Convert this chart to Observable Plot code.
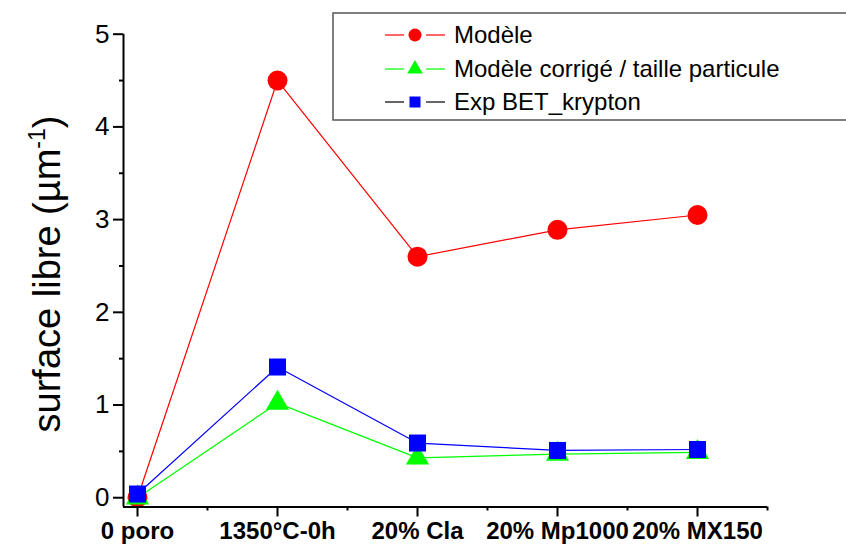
<!DOCTYPE html>
<html>
<head>
<meta charset="utf-8">
<script src="https://cdn.jsdelivr.net/npm/d3@7"></script>
<script src="https://cdn.jsdelivr.net/npm/@observablehq/plot@0.6"></script>
<style>
  html, body { margin: 0; padding: 0; background: #fff; }
  #chart { position: relative; width: 846px; height: 544px; }
</style>
</head>
<body>
<div id="chart"></div>
<script>
const categories = ["0 poro", "1350°C-0h", "20% Cla", "20% Mp1000", "20% MX150"];
const modele = [0, 4.5, 2.6, 2.89, 3.05];
const corrige = [0, 1.02, 0.43, 0.47, 0.49];
const betKrypton = [0.04, 1.41, 0.59, 0.51, 0.52];
const seriesNames = ["Modèle", "Modèle corrigé / taille particule", "Exp BET_krypton"];
const yTicks = [0, 1, 2, 3, 4, 5];
const yMinor = [0.5, 1.5, 2.5, 3.5, 4.5];
const xMinor = [0.5, 1.5, 2.5, 3.5, 4.5];

const colors = ["#ff0000", "#00ff00", "#0000ff"];
const symbols = ["circle", "triangle", "square"];
const radii = [10, 8.6, 9.6];
const legendLine = ["#ff0000", "#00ff00", "#000000"];

const seriesValues = [modele, corrige, betKrypton];
const rows = seriesValues.map((vals, s) => vals.map((v, i) => ({series: seriesNames[s], i, value: v})));

const font = "'Liberation Sans', Arial, Helvetica, sans-serif";

const marks = [];
rows.forEach((r, s) => {
  marks.push(Plot.line(r, {x: "i", y: "value", stroke: colors[s], strokeWidth: 1.2}));
});
rows.forEach((r, s) => {
  marks.push(Plot.dot(r, {x: "i", y: "value", fill: colors[s], stroke: "none", symbol: symbols[s], r: radii[s]}));
});

const plot = Plot.plot({
  width: 846,
  height: 544,
  marginLeft: 123,
  marginRight: 79,
  marginTop: 33.7,
  marginBottom: 37.5,
  style: {fontFamily: font, background: "#fff", color: "#000", overflow: "visible"},
  x: {type: "linear", domain: [-0.1, 4.5]},
  y: {type: "linear", domain: [-0.1, 5]},
  marks: [
    ...marks,
    Plot.ruleY([-0.1], {x1: -0.1, x2: 4.5, stroke: "#000", strokeWidth: 2}),
    Plot.ruleX([-0.1], {y1: -0.1, y2: 5, stroke: "#000", strokeWidth: 2}),
    Plot.axisY({ticks: yTicks, tickSize: 10, tickPadding: 4, fontSize: 26, strokeWidth: 2, label: null, tickFormat: d => String(d)}),
    Plot.axisY({ticks: yMinor, tickSize: 4, strokeWidth: 2, label: null, tickFormat: () => ""}),
    Plot.axisX({ticks: [0, 1, 2, 3, 4], tickSize: 10, tickPadding: 5, fontSize: 24, fontWeight: "bold", strokeWidth: 2, label: null, tickFormat: i => categories[i]}),
    Plot.axisX({ticks: xMinor, tickSize: 4, strokeWidth: 2, label: null, tickFormat: () => ""})
  ]
});

document.getElementById("chart").appendChild(plot);

const svg = d3.select(plot);

// y axis label
const yl = svg.append("text")
  .attr("transform", "translate(60,274) rotate(-90)")
  .attr("text-anchor", "middle")
  .attr("font-family", font)
  .attr("font-size", 38)
  .attr("fill", "#000");
yl.append("tspan").text("surface libre (µm");
yl.append("tspan").attr("font-size", 23).attr("dy", -15).text("-1");
yl.append("tspan").attr("dy", 15).text(")");

// legend
const lg = svg.append("g").attr("text-anchor", "start");
lg.append("rect")
  .attr("x", 333).attr("y", 13).attr("width", 520).attr("height", 107)
  .attr("fill", "#fff").attr("stroke", "#555").attr("stroke-width", 1.5);
const rowY = [35, 69, 102];
const lgSize = [6.5, 5.8, 6.2];
seriesNames.forEach((name, s) => {
  const y = rowY[s];
  lg.append("line").attr("x1", 385).attr("x2", 404).attr("y1", y).attr("y2", y)
    .attr("stroke", legendLine[s]).attr("stroke-width", 1.2);
  lg.append("line").attr("x1", 426).attr("x2", 445).attr("y1", y).attr("y2", y)
    .attr("stroke", legendLine[s]).attr("stroke-width", 1.2);
  const sym = s === 0 ? d3.symbolCircle : s === 1 ? d3.symbolTriangle : d3.symbolSquare;
  lg.append("path")
    .attr("d", d3.symbol().type(sym).size(Math.PI * lgSize[s] * lgSize[s])())
    .attr("transform", `translate(415,${y})`)
    .attr("fill", colors[s]);
  lg.append("text")
    .attr("x", 454).attr("y", y).attr("dy", "0.35em")
    .attr("text-anchor", "start")
    .attr("font-family", font).attr("font-size", 24).attr("fill", "#000")
    .text(name);
});
</script>
</body>
</html>
